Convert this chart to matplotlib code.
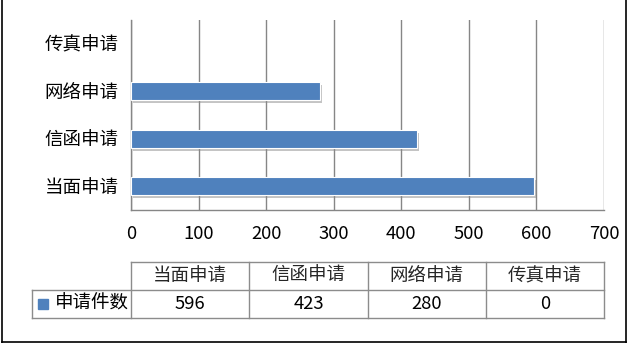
import matplotlib.pyplot as plt
import matplotlib.patheffects as pe
from matplotlib.lines import Line2D

plt.rcParams['font.family'] = ['Noto Sans CJK SC', 'DejaVu Sans']
plt.rcParams['font.weight'] = 'light'

categories = ['当面申请', '信函申请', '网络申请', '传真申请']
counts = [596, 423, 280, 0]
series_name = '申请件数'
xticks = [0, 100, 200, 300, 400, 500, 600, 700]

W, H = 628, 343
fig = plt.figure(figsize=(W / 100, H / 100), dpi=100)

# 主图区域（像素换算）
ax = fig.add_axes([131 / W, (H - 210) / H, (604 - 131) / W, 190 / H])
bar_color = '#4F81BD'
grid_color = '#868686'

bars = ax.barh(range(len(categories)), counts, height=0.38, color=bar_color,
               edgecolor='white', linewidth=0.8, zorder=3)
for b, v in zip(bars, counts):
    if v == 0:
        b.set_visible(False)
        continue
    b.set_path_effects([pe.SimplePatchShadow(offset=(1.5, -2), shadow_rgbFace='#8a8a8a', alpha=0.5),
                        pe.Normal()])

ax.set_xlim(0, 700)
ax.set_ylim(-0.5, len(categories) - 0.5)
ax.set_xticks(xticks)
ax.set_yticks(range(len(categories)))
ax.set_yticklabels(categories)
ax.xaxis.grid(True, color=grid_color, linewidth=1.0, zorder=0)
ax.tick_params(axis='both', length=0, labelsize=13.3, colors='black')
ax.tick_params(axis='x', pad=11)
ax.tick_params(axis='y', pad=9)
for s in ['top', 'right']:
    ax.spines[s].set_visible(False)
for s in ['left', 'bottom']:
    ax.spines[s].set_color(grid_color)
    ax.spines[s].set_linewidth(1.0)

# 数据表
lab_w = (131 - 32) / 118
tax = fig.add_axes([32 / W, (H - 318) / H, (604 - 32) / W, 56 / H])
tax.set_xlim(-lab_w, len(categories))
tax.set_ylim(0, 2)
tax.axis('off')
lc = '#8c8c8c'
tax.plot([0, len(categories)], [2, 2], color=lc, lw=1, clip_on=False)
tax.plot([-lab_w, len(categories)], [1, 1], color=lc, lw=1, clip_on=False)
tax.plot([-lab_w, len(categories)], [0, 0], color=lc, lw=1, clip_on=False)
tax.plot([-lab_w, -lab_w], [0, 1], color=lc, lw=1, clip_on=False)
for i in range(len(categories) + 1):
    tax.plot([i, i], [0, 2], color=lc, lw=1, clip_on=False)
for i, (c, v) in enumerate(zip(categories, counts)):
    tax.text(i + 0.5, 1.5, c, ha='center', va='center', fontsize=13.3, color='#262626')
    tax.text(i + 0.5, 0.5, str(v), ha='center', va='center', fontsize=13.3, color='black')
tax.plot([-lab_w + 0.09], [0.5], marker='s', ms=6.5, color=bar_color, clip_on=False)
tax.text(-lab_w + 0.19, 0.5, series_name, ha='left', va='center', fontsize=13.3, color='black')

# 外框
fig.add_artist(Line2D([1.5 / W, 1.5 / W], [0, 1], color='black', lw=1.2))
fig.add_artist(Line2D([626 / W, 626 / W], [0, 1], color='black', lw=1.2))
fig.add_artist(Line2D([1.5 / W, 626 / W], [1.5 / H, 1.5 / H], color='black', lw=1.2))

fig.savefig('out.png', dpi=100)
